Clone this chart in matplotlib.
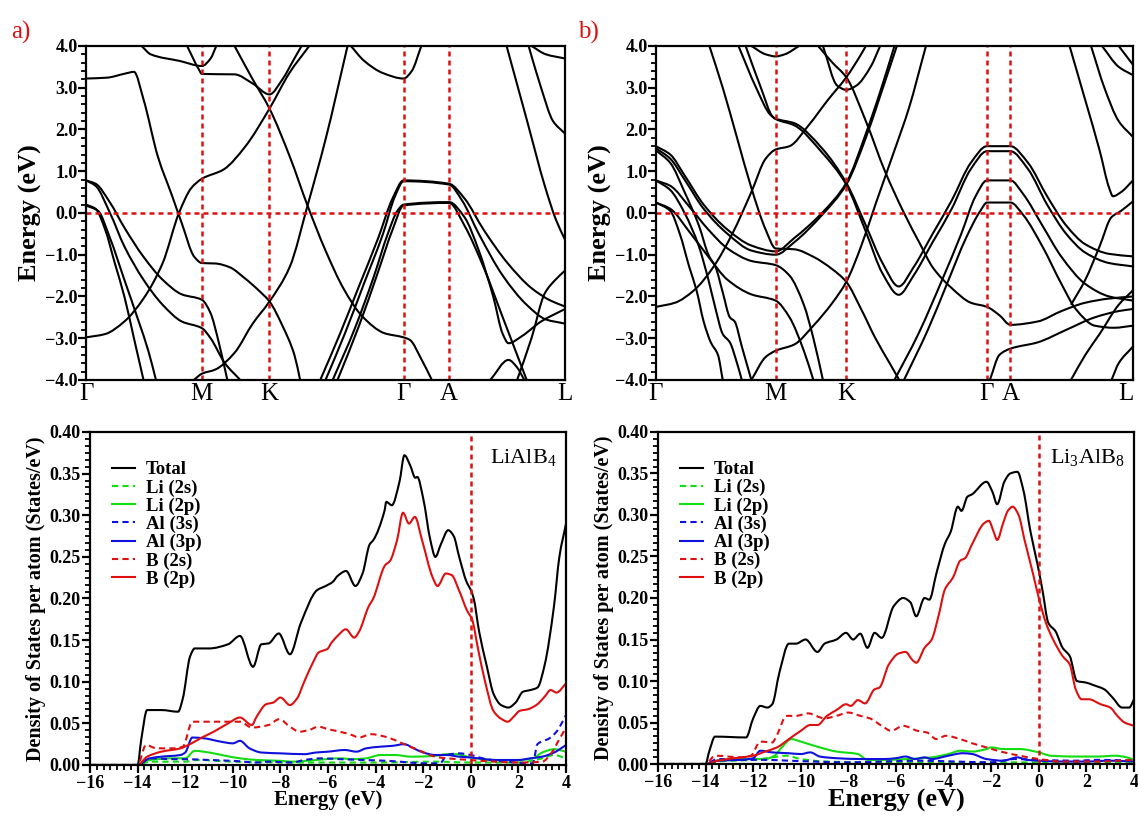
import numpy as np
import matplotlib.pyplot as plt
from matplotlib.path import Path
from matplotlib.patches import PathPatch
from matplotlib.lines import Line2D
from matplotlib.ticker import MultipleLocator, AutoMinorLocator, FuncFormatter

plt.rcParams['font.family'] = ['Liberation Serif', 'DejaVu Serif']
plt.rcParams['mathtext.fontset'] = 'custom'
plt.rcParams['mathtext.rm'] = 'Liberation Serif'
plt.rcParams['axes.linewidth'] = 1.6

# ---------------- band structure data (k as fraction of path, E in eV) ----------------
kpts_a = [0.0, 0.2416, 0.3826, 0.663, 0.7576, 1.0]
kpts_b = [0.0, 0.2508, 0.3994, 0.6936, 0.743, 1.0]
klabels = ['Γ', 'M', 'K', 'Γ', 'A', 'L']

bands_a = [
    [(0, 3.22), (0.043, 3.24), (0.082, 3.34), (0.10, 3.38), (0.12, 2.72), (0.15, 1.35), (0.18, 0.4),
     (0.20, -0.25), (0.226, -1.05), (0.242, -1.2), (0.27, -1.21), (0.30, -1.3), (0.33, -1.55),
     (0.36, -1.85), (0.383, -2.12), (0.41, -2.7), (0.435, -3.4), (0.447, -4.0)],
    [(0, -2.98), (0.04, -2.9), (0.08, -2.6), (0.12, -2.05), (0.16, -1.2), (0.194, 0.0), (0.22, 0.6),
     (0.242, 0.82), (0.287, 1.04), (0.333, 1.6), (0.383, 2.5), (0.425, 3.36), (0.466, 4.0)],
    [(0.31, 4.0), (0.348, 3.2), (0.383, 2.5), (0.425, 1.36), (0.463, 0.16), (0.50, -0.9), (0.539, -1.84),
     (0.577, -2.48), (0.623, -2.88), (0.663, -2.98), (0.676, -3.04), (0.70, -3.5), (0.722, -4.0)],
    [(0.225, -4.0), (0.242, -3.85), (0.27, -3.75), (0.31, -3.35), (0.348, -2.65), (0.383, -2.12),
     (0.425, -1.3), (0.463, 0.2), (0.50, 1.76), (0.546, 4.0)],
    [(0.116, 4.0), (0.135, 3.8), (0.196, 3.64), (0.242, 3.52), (0.26, 3.7), (0.272, 4.0)],
    [(0.211, 4.0), (0.235, 3.45), (0.242, 3.33), (0.31, 3.32), (0.348, 3.1), (0.383, 2.84),
     (0.41, 3.2), (0.435, 3.7), (0.45, 4.0)],
    [(0.553, 4.0), (0.58, 3.65), (0.62, 3.35), (0.663, 3.22), (0.68, 3.4), (0.70, 4.0)],
    [(0.489, -4.0), (0.53, -2.9), (0.57, -1.75), (0.61, -0.6), (0.64, 0.35), (0.663, 0.78), (0.758, 0.7),
     (0.79, 0.35), (0.83, -0.4), (0.88, -1.2), (0.93, -1.8), (0.97, -2.1), (1.0, -2.24)],
    [(0.50, -4.0), (0.54, -2.9), (0.58, -1.7), (0.62, -0.5), (0.645, 0.4), (0.663, 0.76), (0.758, 0.68),
     (0.785, 0.3), (0.82, -0.5), (0.87, -1.5), (0.92, -2.2), (0.96, -2.55), (1.0, -2.65)],
    [(0.515, -4.0), (0.56, -2.8), (0.60, -1.55), (0.63, -0.5), (0.65, 0.05), (0.663, 0.2), (0.758, 0.26),
     (0.79, -0.1), (0.82, -0.9), (0.85, -2.0), (0.87, -2.9), (0.882, -3.12), (0.91, -2.95),
     (0.95, -2.6), (1.0, -2.3)],
    [(0.525, -4.0), (0.57, -2.7), (0.61, -1.4), (0.64, -0.4), (0.663, 0.18), (0.758, 0.24), (0.79, -0.3),
     (0.83, -1.3), (0.87, -2.5), (0.90, -3.4), (0.92, -4.0)],
    [(0.844, -4.0), (0.882, -3.52), (0.90, -3.7), (0.915, -4.0)],
    [(0.90, -4.0), (0.93, -3.0), (0.958, -1.92), (0.98, -1.6), (1.0, -1.38)],
    [(0.878, 4.0), (0.92, 2.24), (0.958, 0.64), (0.981, -0.16), (1.0, -0.64)],
    [(0.924, 4.0), (0.95, 3.0), (0.975, 2.2), (1.0, 1.9)],
    [(0.93, 4.0), (0.96, 3.8), (1.0, 3.7)],
    [(0, 0.78), (0.02, 0.7), (0.05, 0.25), (0.08, -0.35), (0.12, -1.05), (0.16, -1.6), (0.20, -1.95),
     (0.242, -2.08), (0.26, -2.4), (0.275, -3.0), (0.295, -4.0)],
    [(0, 0.78), (0.02, 0.65), (0.05, 0.0), (0.08, -0.8), (0.12, -1.6), (0.16, -2.2), (0.20, -2.6),
     (0.242, -2.76), (0.26, -3.0), (0.29, -3.6), (0.322, -4.0)],
    [(0, 0.2), (0.02, 0.1), (0.04, -0.4), (0.06, -1.2), (0.08, -2.0), (0.10, -3.0), (0.12, -4.0)],
    [(0, 0.18), (0.025, 0.05), (0.05, -0.6), (0.08, -1.6), (0.11, -2.6), (0.13, -3.3), (0.146, -4.0)],
]

bands_b = [
    [(0.173, 4.0), (0.21, 3.0), (0.24, 2.35), (0.251, 2.26), (0.29, 2.15), (0.348, 1.55), (0.399, 0.72),
     (0.44, -0.3), (0.475, -1.2), (0.509, -1.76), (0.54, -1.3), (0.58, -0.5), (0.62, 0.3), (0.66, 1.2),
     (0.694, 1.6), (0.743, 1.6), (0.78, 1.2), (0.82, 0.4), (0.86, -0.3), (0.90, -0.75), (0.95, -0.98),
     (1.0, -1.04)],
    [(0.188, 4.0), (0.22, 3.0), (0.245, 2.3), (0.251, 2.25), (0.29, 2.1), (0.348, 1.45), (0.399, 0.68),
     (0.44, -0.45), (0.475, -1.45), (0.509, -1.96), (0.54, -1.5), (0.58, -0.7), (0.62, 0.1), (0.66, 1.05),
     (0.694, 1.48), (0.743, 1.48), (0.78, 1.05), (0.82, 0.2), (0.86, -0.5), (0.90, -0.95), (0.95, -1.2),
     (1.0, -1.28)],
    [(0, 1.6), (0.03, 1.4), (0.06, 0.9), (0.10, 0.2), (0.15, -0.4), (0.20, -0.78), (0.251, -0.92),
     (0.29, -0.6), (0.348, 0.0), (0.399, 0.72), (0.44, 1.9), (0.47, 2.9), (0.50, 4.0)],
    [(0, 1.55), (0.03, 1.3), (0.06, 0.8), (0.10, 0.1), (0.15, -0.5), (0.20, -0.9), (0.251, -1.0),
     (0.29, -0.7), (0.348, -0.05), (0.399, 0.68), (0.44, 1.8), (0.47, 2.8), (0.505, 4.0)],
    [(0, 1.5), (0.03, 1.2), (0.06, 0.5), (0.09, -0.3), (0.11, -1.0), (0.125, -1.3), (0.14, -1.9),
     (0.155, -2.5), (0.165, -2.6), (0.18, -3.2), (0.20, -4.0)],
    [(0, 0.78), (0.03, 0.55), (0.06, 0.0), (0.09, -0.8), (0.11, -1.6), (0.125, -2.3), (0.14, -2.9),
     (0.155, -3.1), (0.17, -3.6), (0.18, -4.0)],
    [(0, 0.25), (0.03, 0.05), (0.05, -0.5), (0.07, -1.3), (0.085, -1.85), (0.10, -2.6), (0.115, -3.1),
     (0.13, -3.4), (0.14, -4.0)],
    [(0, 0.78), (0.03, 0.65), (0.07, 0.15), (0.11, -0.4), (0.15, -0.85), (0.2, -1.15), (0.251, -1.25),
     (0.28, -1.5), (0.31, -2.2), (0.33, -3.0), (0.35, -4.0)],
    [(0, 0.25), (0.03, 0.1), (0.07, -0.45), (0.11, -1.05), (0.15, -1.6), (0.2, -1.95), (0.251, -2.1),
     (0.28, -2.5), (0.31, -3.3), (0.33, -4.0)],
    [(0, -2.25), (0.04, -2.15), (0.08, -1.85), (0.12, -1.3), (0.16, -0.5), (0.2, 0.5), (0.23, 1.3),
     (0.251, 1.52), (0.28, 1.6), (0.32, 2.1), (0.36, 2.7), (0.399, 3.25), (0.43, 3.8), (0.44, 4.0)],
    [(0.112, 4.0), (0.14, 3.0), (0.17, 1.8), (0.2, 0.6), (0.23, -0.4), (0.251, -0.85), (0.29, -0.87),
     (0.33, -1.05), (0.37, -1.35), (0.399, -1.65), (0.43, -2.3), (0.46, -3.0), (0.49, -3.6), (0.51, -4.0)],
    [(0.2, -4.0), (0.23, -3.45), (0.251, -3.3), (0.29, -3.15), (0.33, -2.7), (0.37, -2.15), (0.399, -1.65),
     (0.43, -0.8), (0.46, 0.2), (0.5, 1.5), (0.53, 2.5), (0.566, 4.0)],
    [(0.34, 4.0), (0.37, 3.6), (0.399, 3.25), (0.44, 2.2), (0.48, 1.0), (0.52, 0.0), (0.554, -0.75),
     (0.58, -1.3), (0.62, -1.8), (0.66, -2.15), (0.694, -2.25), (0.72, -2.45), (0.743, -2.68), (0.8, -2.6),
     (0.85, -2.35), (0.9, -2.15), (0.95, -2.05), (1.0, -2.0)],
    [(0.5, -4.0), (0.55, -2.9), (0.6, -1.6), (0.64, -0.5), (0.67, 0.4), (0.694, 0.78), (0.743, 0.78),
     (0.77, 0.45), (0.81, -0.3), (0.85, -1.05), (0.9, -1.7), (0.95, -2.0), (1.0, -2.1)],
    [(0.52, -4.0), (0.57, -2.8), (0.61, -1.7), (0.65, -0.6), (0.68, 0.05), (0.694, 0.25), (0.743, 0.25),
     (0.77, -0.05), (0.81, -0.8), (0.85, -1.7), (0.88, -2.3), (0.92, -2.7), (0.96, -2.75), (1.0, -2.7)],
    [(0.70, -4.0), (0.72, -3.4), (0.743, -3.25), (0.8, -3.1), (0.86, -2.8), (0.92, -2.5), (0.97, -2.35),
     (1.0, -2.3)],
    [(0.867, 4.0), (0.9, 2.7), (0.93, 1.5), (0.95, 0.6), (0.958, 0.4), (0.975, 0.5), (1.0, 0.78)],
    [(0.912, 4.0), (0.94, 3.0), (0.97, 2.2), (1.0, 1.82)],
    [(0.935, 4.0), (0.97, 3.5), (1.0, 3.3)],
    [(0.97, 4.0), (1.0, 3.55)],
    [(0.87, -2.2), (0.9, -1.6), (0.93, -0.8), (0.955, -0.1), (0.975, 0.05), (1.0, 0.28)],
    [(0.87, -4.0), (0.9, -3.4), (0.93, -2.9), (0.97, -2.2), (1.0, -1.85)],
    [(0.955, -4.0), (0.97, -3.6), (1.0, -3.2)],
    [(0.2, 4.0), (0.23, 3.8), (0.251, 3.75), (0.27, 3.8), (0.3, 4.0)],
    [(0.35, 4.0), (0.38, 3.05), (0.399, 2.95), (0.42, 3.05), (0.45, 3.5), (0.47, 4.0)],
]

# ---------------- DOS data: (E, states/eV) ----------------
tot_a = [(-16, 0), (-14, 0), (-13.85, 0.03), (-13.6, 0.066), (-13, 0.066), (-12.3, 0.064), (-12.1, 0.08),
         (-11.8, 0.13), (-11.6, 0.14), (-11, 0.14), (-10.2, 0.145), (-9.7, 0.155), (-9.15, 0.118),
         (-8.8, 0.145), (-8.5, 0.146), (-8.07, 0.158), (-7.6, 0.133), (-7.15, 0.17), (-6.46, 0.21),
         (-6.1, 0.215), (-5.8, 0.22), (-5.6, 0.227), (-5.24, 0.233), (-4.85, 0.215), (-4.55, 0.23),
         (-4.25, 0.265), (-4.1, 0.27), (-3.63, 0.305), (-3.55, 0.316), (-3.32, 0.312), (-3.0, 0.34),
         (-2.79, 0.372), (-2.55, 0.36), (-2.33, 0.345), (-2.25, 0.346), (-2.0, 0.32), (-1.7, 0.27),
         (-1.49, 0.25), (-1.26, 0.265), (-0.95, 0.282), (-0.72, 0.275), (-0.49, 0.25), (-0.18, 0.22),
         (0, 0.21), (0.12, 0.2), (0.35, 0.16), (0.66, 0.12), (0.96, 0.085), (1.27, 0.072), (1.58, 0.069),
         (1.88, 0.075), (2.19, 0.088), (2.5, 0.09), (2.8, 0.093), (3.1, 0.12), (3.49, 0.19), (3.72, 0.25),
         (4.0, 0.29)]
b2p_a = [(-16, 0), (-14, 0), (-13.6, 0.01), (-13, 0.016), (-12.2, 0.02), (-11.8, 0.025), (-11.3, 0.033),
         (-10.8, 0.04), (-10.2, 0.05), (-9.7, 0.057), (-9.2, 0.048), (-9.0, 0.058), (-8.6, 0.073),
         (-8.3, 0.075), (-8.0, 0.081), (-7.6, 0.072), (-7.3, 0.08), (-7.0, 0.1), (-6.6, 0.125),
         (-6.4, 0.135), (-6.0, 0.14), (-5.9, 0.145), (-5.6, 0.155), (-5.25, 0.163), (-4.9, 0.153),
         (-4.7, 0.16), (-4.3, 0.19), (-4.1, 0.2), (-3.6, 0.24), (-3.4, 0.245), (-3.1, 0.27), (-2.85, 0.303),
         (-2.6, 0.29), (-2.35, 0.298), (-2.05, 0.27), (-1.6, 0.225), (-1.4, 0.215), (-1.05, 0.23),
         (-0.8, 0.228), (-0.5, 0.21), (-0.15, 0.185), (0.05, 0.175), (0.3, 0.14), (0.6, 0.1), (0.95, 0.065),
         (1.3, 0.055), (1.55, 0.052), (1.8, 0.058), (2.05, 0.065), (2.4, 0.067), (2.75, 0.072), (3.1, 0.082),
         (3.35, 0.09), (3.6, 0.087), (4.0, 0.098)]
b2s_a = [(-16, 0), (-14, 0), (-13.65, 0.024), (-13.2, 0.02), (-12.5, 0.02), (-12.1, 0.022), (-11.7, 0.052),
         (-10.5, 0.052), (-9.7, 0.052), (-9.2, 0.045), (-8.5, 0.048), (-8.05, 0.055), (-7.6, 0.046),
         (-7.2, 0.04), (-6.8, 0.042), (-6.4, 0.046), (-6.0, 0.043), (-5.5, 0.04), (-5.0, 0.036),
         (-4.7, 0.033), (-4.2, 0.037), (-3.6, 0.034), (-3.2, 0.03), (-2.8, 0.025), (-2.2, 0.018),
         (-1.5, 0.01), (-1.0, 0.008), (0, 0.006), (1, 0.004), (2, 0.003), (3.0, 0.004), (3.4, 0.015),
         (3.7, 0.03), (4.0, 0.045)]
al3p_a = [(-16, 0), (-14, 0), (-13.5, 0.008), (-13, 0.01), (-12.2, 0.012), (-12.0, 0.015), (-11.7, 0.033),
          (-11.2, 0.032), (-10.5, 0.028), (-10, 0.026), (-9.7, 0.029), (-9.3, 0.02), (-8.8, 0.015),
          (-8, 0.014), (-7, 0.013), (-6.5, 0.015), (-6.0, 0.016), (-5.3, 0.018), (-4.8, 0.016),
          (-4.4, 0.02), (-3.8, 0.022), (-3.3, 0.023), (-2.8, 0.025), (-2.4, 0.02), (-2.0, 0.015),
          (-1.5, 0.012), (-1.0, 0.012), (-0.5, 0.01), (0, 0.009), (1, 0.006), (2, 0.006), (2.5, 0.008),
          (3, 0.01), (3.5, 0.015), (4, 0.024)]
al3s_a = [(-16, 0), (-14, 0), (-13.5, 0.008), (-12.5, 0.007), (-12, 0.007), (-11, 0.006), (-10, 0.005),
          (-9, 0.003), (-8.5, 0.004), (-7.5, 0.003), (-7.0, 0.006), (-6.3, 0.008), (-5.5, 0.007),
          (-4.5, 0.006), (-3.5, 0.005), (-3.0, 0.004), (-2.0, 0.002), (-1.3, 0.002), (-1.0, 0.012),
          (-0.5, 0.014), (0.0, 0.012), (0.5, 0.008), (1.5, 0.004), (2.6, 0.002), (2.8, 0.025),
          (3.3, 0.032), (3.6, 0.04), (4, 0.06)]
li2p_a = [(-16, 0), (-14, 0), (-13.5, 0.006), (-12.5, 0.008), (-12, 0.008), (-11.6, 0.017), (-11, 0.015),
          (-10.3, 0.011), (-9.7, 0.008), (-9.0, 0.006), (-8, 0.005), (-7.5, 0.004), (-6.5, 0.006),
          (-5.5, 0.008), (-5, 0.007), (-4.4, 0.008), (-3.8, 0.012), (-3.2, 0.012), (-2.5, 0.01),
          (-1.5, 0.011), (-1.0, 0.013), (-0.6, 0.013), (0, 0.009), (1.0, 0.006), (2.0, 0.006),
          (2.6, 0.008), (3.0, 0.015), (3.5, 0.019), (4, 0.016)]
li2s_a = [(-16, 0), (-14, 0), (-13.5, 0.004), (-12, 0.004), (-11.5, 0.006), (-10, 0.004), (-8, 0.003),
          (-4, 0.003), (-1.5, 0.004), (0, 0.003), (2, 0.003), (3.0, 0.008), (3.5, 0.012), (4, 0.008)]

tot_b = [(-16, 0), (-14, 0), (-13.85, 0.015), (-13.6, 0.033), (-12.3, 0.032), (-12.0, 0.055),
         (-11.7, 0.07), (-11.4, 0.068), (-11.2, 0.072), (-10.9, 0.11), (-10.5, 0.145), (-10.2, 0.145),
         (-9.8, 0.15), (-9.3, 0.135), (-9.0, 0.145), (-8.5, 0.15), (-8.1, 0.158), (-7.8, 0.15),
         (-7.5, 0.157), (-7.2, 0.14), (-6.9, 0.158), (-6.6, 0.152), (-6.1, 0.19), (-5.7, 0.2),
         (-5.4, 0.195), (-5.15, 0.178), (-4.8, 0.2), (-4.6, 0.198), (-4.3, 0.23), (-3.95, 0.265),
         (-3.7, 0.28), (-3.4, 0.31), (-3.25, 0.305), (-3.0, 0.322), (-2.8, 0.325), (-2.2, 0.34),
         (-1.95, 0.328), (-1.75, 0.313), (-1.45, 0.34), (-1.2, 0.35), (-0.9, 0.352), (-0.65, 0.33),
         (-0.35, 0.28), (-0.05, 0.24), (0.15, 0.21), (0.4, 0.17), (0.7, 0.16), (1.0, 0.14), (1.3, 0.13),
         (1.6, 0.1), (2.0, 0.098), (2.3, 0.095), (2.75, 0.09), (3.1, 0.08), (3.5, 0.068), (3.8, 0.068),
         (4.0, 0.078)]
b2p_b = [(-16, 0), (-14, 0), (-13.5, 0.004), (-12.5, 0.008), (-12, 0.01), (-11.5, 0.015), (-11, 0.02),
         (-10.5, 0.03), (-10, 0.04), (-9.6, 0.047), (-9.3, 0.047), (-8.9, 0.058), (-8.5, 0.065),
         (-8.1, 0.072), (-7.9, 0.07), (-7.6, 0.077), (-7.3, 0.073), (-6.9, 0.09), (-6.7, 0.092),
         (-6.3, 0.12), (-5.9, 0.133), (-5.6, 0.135), (-5.3, 0.125), (-5.15, 0.122), (-4.8, 0.14),
         (-4.5, 0.15), (-4.2, 0.18), (-3.95, 0.21), (-3.6, 0.225), (-3.3, 0.245), (-3.1, 0.248),
         (-2.8, 0.265), (-2.3, 0.29), (-2.1, 0.293), (-1.9, 0.28), (-1.75, 0.27), (-1.5, 0.29),
         (-1.3, 0.305), (-1.1, 0.31), (-0.85, 0.3), (-0.6, 0.27), (-0.25, 0.23), (0.0, 0.2), (0.3, 0.17),
         (0.6, 0.15), (1.0, 0.13), (1.3, 0.12), (1.55, 0.09), (1.8, 0.078), (2.1, 0.078), (2.6, 0.072),
         (3.0, 0.068), (3.3, 0.058), (3.6, 0.05), (4.0, 0.046)]
b2s_b = [(-16, 0), (-14, 0), (-13.6, 0.01), (-12.5, 0.008), (-12.1, 0.01), (-11.7, 0.027), (-11.2, 0.026),
         (-11.0, 0.035), (-10.6, 0.058), (-10.2, 0.058), (-9.7, 0.061), (-9.0, 0.055), (-8.5, 0.058),
         (-8.0, 0.062), (-7.5, 0.058), (-7.1, 0.055), (-6.6, 0.046), (-6.2, 0.04), (-5.7, 0.046),
         (-5.1, 0.04), (-4.7, 0.038), (-4.3, 0.03), (-3.9, 0.034), (-3.3, 0.03), (-2.8, 0.025),
         (-2.2, 0.02), (-1.6, 0.015), (-0.8, 0.01), (0, 0.006), (1, 0.003), (2.5, 0.003), (4, 0.005)]
al3p_b = [(-16, 0), (-14, 0), (-13.5, 0.004), (-12.5, 0.005), (-12.0, 0.007), (-11.7, 0.016),
          (-11.2, 0.014), (-10.5, 0.013), (-10.0, 0.012), (-9.6, 0.014), (-9.2, 0.009), (-8.5, 0.007),
          (-7.5, 0.006), (-6.5, 0.006), (-6.0, 0.007), (-5.6, 0.009), (-5.2, 0.006), (-4.8, 0.008),
          (-4.5, 0.006), (-3.8, 0.01), (-3.2, 0.013), (-2.8, 0.012), (-2.2, 0.006), (-1.5, 0.004),
          (-0.9, 0.008), (-0.5, 0.005), (0, 0.004), (1, 0.003), (2, 0.003), (3, 0.004), (4, 0.003)]
al3s_b = [(-16, 0), (-14, 0), (-13.5, 0.006), (-12.5, 0.005), (-11.5, 0.005), (-10.5, 0.004),
          (-9.5, 0.003), (-8, 0.002), (-6.5, 0.003), (-5, 0.004), (-3.5, 0.003), (-2, 0.002), (-1, 0.006),
          (0, 0.005), (1.5, 0.004), (2.5, 0.005), (4, 0.004)]
li2p_b = [(-16, 0), (-14, 0), (-13.5, 0.004), (-12.5, 0.006), (-11.5, 0.006), (-11.1, 0.01),
          (-10.8, 0.02), (-10.4, 0.03), (-10.0, 0.027), (-9.2, 0.02), (-8.5, 0.015), (-7.6, 0.012),
          (-7.2, 0.005), (-6.5, 0.005), (-5.5, 0.006), (-4.5, 0.008), (-3.8, 0.012), (-3.3, 0.016),
          (-2.8, 0.015), (-2.2, 0.018), (-2.0, 0.02), (-1.5, 0.018), (-0.8, 0.018), (0, 0.014),
          (0.5, 0.01), (1.5, 0.009), (2.5, 0.009), (3.2, 0.01), (3.7, 0.008), (4, 0.005)]
li2s_b = [(-16, 0), (-14, 0), (-13.5, 0.003), (-12, 0.005), (-11.2, 0.008), (-10.6, 0.01), (-10, 0.006),
          (-9, 0.003), (-7, 0.002), (-4, 0.002), (0, 0.002), (4, 0.002)]

dos_labels = ['Total', 'Li (2s)', 'Li (2p)', 'Al (3s)', 'Al (3p)', 'B (2s)', 'B (2p)']
dos_colors = ['black', '#11dd11', '#11dd11', '#1010dd', '#1010dd', '#dd1010', '#dd1010']
dos_styles = ['-', (0, (3, 2)), '-', (0, (3, 2)), '-', (0, (3, 2)), '-']

RED = '#dd1010'
DOT = (0, (2, 1.6))


def smooth_path(pts):
    # monotone cubic (PCHIP-like) Hermite curve through the knots, drawn as Bezier segments
    p = np.asarray(pts, float)
    x, y = p[:, 0], p[:, 1]
    h = np.diff(x)
    d = np.diff(y) / h
    m = np.zeros_like(y)
    m[0], m[-1] = d[0], d[-1]
    for i in range(1, len(x) - 1):
        if d[i - 1] * d[i] > 0:
            w1 = 2 * h[i] + h[i - 1]
            w2 = h[i] + 2 * h[i - 1]
            m[i] = (w1 + w2) / (w1 / d[i - 1] + w2 / d[i])
    verts = [(x[0], y[0])]
    codes = [Path.MOVETO]
    for i in range(len(x) - 1):
        verts += [(x[i] + h[i] / 3, y[i] + m[i] * h[i] / 3),
                  (x[i + 1] - h[i] / 3, y[i + 1] - m[i + 1] * h[i] / 3),
                  (x[i + 1], y[i + 1])]
        codes += [Path.CURVE4] * 3
    return Path(verts, codes)


def minus_fmt(fmt):
    return FuncFormatter(lambda v, pos: (fmt % v).replace('-', '\u2212'))


fig = plt.figure(figsize=(11.38, 8.18), dpi=100)


def band_panel(rect, bands, kpts, last_right=False):
    ax = fig.add_axes(rect)
    for b in bands:
        ax.add_patch(PathPatch(smooth_path(b), fill=False, edgecolor='black', lw=1.5))
    for kp in kpts[1:-1]:
        ax.axvline(kp, color=RED, lw=1.8, ls=DOT)
    ax.axhline(0, color=RED, lw=1.8, ls=DOT)
    ax.set_xlim(0, 1)
    ax.set_ylim(-4, 4)
    ax.set_xticks(kpts)
    ax.set_xticklabels(klabels, fontsize=18)
    ax.tick_params(axis='x', length=0, pad=2)
    if last_right:
        ax.get_xticklabels()[-1].set_horizontalalignment('right')
    ax.yaxis.set_major_locator(MultipleLocator(1.0))
    ax.yaxis.set_minor_locator(MultipleLocator(0.2))
    ax.yaxis.set_major_formatter(minus_fmt('%.1f'))
    ax.tick_params(axis='y', which='major', direction='out', length=6, width=1.6, labelsize=13, pad=0)
    ax.tick_params(axis='y', which='minor', direction='out', length=3.5, width=1.3)
    for t in ax.get_yticklabels():
        t.set_fontweight('bold')
    ax.set_ylabel('Energy (eV)', fontsize=19, fontweight='bold', labelpad=2)
    return ax


def dos_panel(rect, series, tag, xl_size):
    ax = fig.add_axes(rect)
    handles = []
    for s, lab, c, st in zip(series, dos_labels, dos_colors, dos_styles):
        ax.add_patch(PathPatch(smooth_path(s), fill=False, edgecolor=c, ls=st, lw=1.5))
        handles.append(Line2D([], [], color=c, ls=st, lw=1.5, label=lab))
    ax.axvline(0, color=RED, lw=1.8, ls=DOT)
    ax.set_xlim(-16, 4)
    ax.set_ylim(0, 0.4)
    ax.xaxis.set_major_locator(MultipleLocator(2))
    ax.xaxis.set_minor_locator(AutoMinorLocator(7))
    ax.yaxis.set_major_locator(MultipleLocator(0.05))
    ax.yaxis.set_minor_locator(AutoMinorLocator(6))
    ax.xaxis.set_major_formatter(minus_fmt('%d'))
    ax.yaxis.set_major_formatter(minus_fmt('%.2f'))
    ax.tick_params(which='major', direction='out', length=6, width=1.6, labelsize=13, pad=1)
    ax.tick_params(which='minor', direction='out', length=3.5, width=1.3)
    for t in ax.get_xticklabels() + ax.get_yticklabels():
        t.set_fontweight('bold')
    ax.set_ylabel('Density of States per atom (States/eV)', fontsize=14.5, fontweight='bold', labelpad=2)
    ax.set_xlabel('Energy (eV)', fontsize=xl_size, fontweight='bold', labelpad=-1)
    leg = ax.legend(handles=handles, loc='upper left', bbox_to_anchor=(0.03, 0.935), frameon=False,
                    fontsize=13.5, handlelength=1.25, handletextpad=0.55, labelspacing=0.05,
                    borderaxespad=0)
    for t in leg.get_texts():
        t.set_fontweight('bold')
    ax.text(0.98, 0.955, tag, transform=ax.transAxes, ha='right', va='top', fontsize=16)
    return ax


band_panel([0.0756, 0.5355, 0.4209, 0.4083], bands_a, kpts_a)
band_panel([0.5764, 0.5355, 0.4192, 0.4083], bands_b, kpts_b, last_right=True)
dos_panel([0.0791, 0.0648, 0.4183, 0.4071],
          [tot_a, li2s_a, li2p_a, al3s_a, al3p_a, b2s_a, b2p_a], r'LiAlB$_4$', 15)
dos_panel([0.5782, 0.0660, 0.4183, 0.4059],
          [tot_b, li2s_b, li2p_b, al3s_b, al3p_b, b2s_b, b2p_b], r'Li$_3$AlB$_8$', 19)

fig.text(0.010, 0.975, 'a)', color=RED, fontsize=18, va='top')
fig.text(0.508, 0.975, 'b)', color=RED, fontsize=18, va='top')

fig.savefig('out.png', dpi=100)
